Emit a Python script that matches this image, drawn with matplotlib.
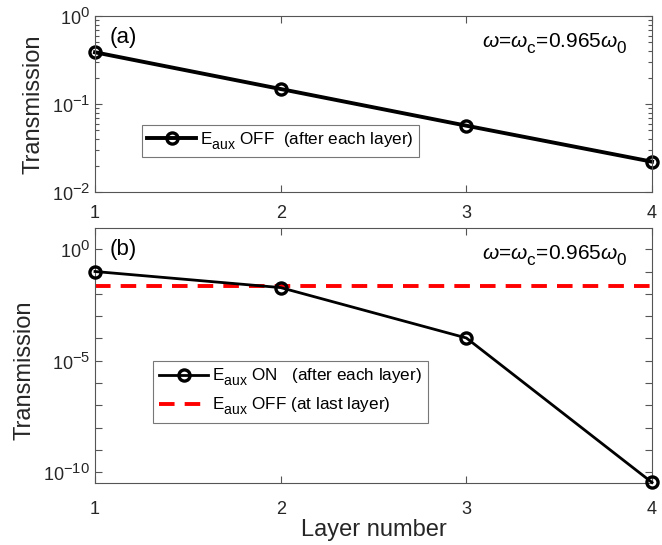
import matplotlib
matplotlib.use("Agg")
import matplotlib.pyplot as plt
import matplotlib.ticker as mticker
import matplotlib._mathtext as _mt
import numpy as np

# ---- data ----
layers = [1, 2, 3, 4]
trans_off_each = [0.387, 0.148, 0.0567, 0.0221]
trans_on_each = [0.10, 0.019, 1.05e-4, 3.5e-11]
trans_off_last = 0.0226
xtick_labels = ["1", "2", "3", "4"]
label_a = "(a)"
label_b = "(b)"
freq_text = r"$\omega$=$\omega_{\rm c}$=0.965$\omega_0$"
leg_a = r"E$_{\rm aux}$ OFF  (after each layer)"
leg_b1 = r"E$_{\rm aux}$ ON   (after each layer)"
leg_b2 = r"E$_{\rm aux}$ OFF (at last layer)"

# MATLAB-like larger, lower subscripts
_mt.SHRINK_FACTOR = 0.82
_mt.FontConstantsBase.sub1 = 0.6
_mt.FontConstantsBase.sub2 = 0.75

plt.rcParams["font.family"] = ["Liberation Sans", "DejaVu Sans"]
plt.rcParams["mathtext.fontset"] = "custom"
plt.rcParams["mathtext.rm"] = "Liberation Sans"
plt.rcParams["mathtext.it"] = "Liberation Sans:italic"
plt.rcParams["mathtext.bf"] = "Liberation Sans:bold"

W, H = 662, 545
fig = plt.figure(figsize=(W / 100, H / 100), dpi=100)

def fx(px):
    return px / W

def fy(py):
    return 1 - py / H

ax1 = fig.add_axes([fx(95), fy(192), fx(652) - fx(95), fy(16) - fy(192)])
ax2 = fig.add_axes([fx(95), fy(483), fx(652) - fx(95), fy(228) - fy(483)])

axcol = "#555555"
txtcol = "#262626"

for ax in (ax1, ax2):
    ax.set_yscale("log")
    ax.set_xlim(1, 4)
    ax.set_xticks(layers)
    ax.set_xticklabels(xtick_labels)
    ax.tick_params(which="both", direction="in", top=True, right=True,
                   colors=axcol, labelcolor=txtcol, labelsize=13, width=0.8)
    ax.tick_params(which="major", length=5)
    ax.tick_params(which="minor", length=3)
    for s in ax.spines.values():
        s.set_color(axcol)
        s.set_linewidth(0.8)
ax1.tick_params(axis="x", pad=9)
ax2.tick_params(axis="x", pad=13)

# ---- panel (a) ----
ax1.plot(layers, trans_off_each, "-o", color="black", lw=2.8, ms=8,
         mfc="none", mew=2.4, clip_on=False, label=leg_a)
ax1.set_ylim(1e-2, 1e0)
ax1.yaxis.set_major_locator(mticker.LogLocator(base=10, numticks=10))
ax1.yaxis.set_minor_locator(mticker.LogLocator(base=10, subs=np.arange(2, 10), numticks=10))
ax1.text(0.027, 0.875, label_a, transform=ax1.transAxes, fontsize=16,
         ha="left", va="center", color="black")
ax1.text(0.955, 0.84, freq_text, transform=ax1.transAxes, fontsize=15,
         ha="right", va="center", color="black")
leg1 = ax1.legend(loc="lower left", bbox_to_anchor=(0.084, 0.199),
                  borderaxespad=0, fontsize=12.3, frameon=True, fancybox=False,
                  handlelength=2.9, handletextpad=0.2, borderpad=0.3)
leg1.get_frame().set_edgecolor("#777777")
leg1.get_frame().set_linewidth(0.8)
leg1.get_frame().set_alpha(1)

# ---- panel (b) ----
ax2.plot(layers, trans_on_each, "-o", color="black", lw=2.0, ms=8,
         mfc="none", mew=2.4, clip_on=False, label=leg_b1, zorder=3)
ax2.plot(layers, [trans_off_last] * len(layers), "--", color="#ff0000", lw=2.8,
         dashes=(4, 2.6), label=leg_b2, zorder=2)
ax2.set_ylim(10 ** -10.48, 10 ** 0.95)
ax2.yaxis.set_major_locator(mticker.FixedLocator([10.0 ** k for k in range(-10, 1)]))
ax2.yaxis.set_minor_locator(mticker.NullLocator())
ax2.yaxis.set_major_formatter(mticker.FuncFormatter(
    lambda v, p: (r"$10^{%d}$" % round(np.log10(v))) if round(np.log10(v)) % 5 == 0 else ""))
ax2.text(0.027, 0.914, label_b, transform=ax2.transAxes, fontsize=16,
         ha="left", va="center", color="black")
ax2.text(0.955, 0.89, freq_text, transform=ax2.transAxes, fontsize=15,
         ha="right", va="center", color="black")
leg2 = ax2.legend(loc="lower left", bbox_to_anchor=(0.104, 0.235),
                  borderaxespad=0, fontsize=12.3, frameon=True, fancybox=False,
                  handlelength=2.9, handletextpad=0.2, borderpad=0.35,
                  labelspacing=0.45)
leg2.get_frame().set_edgecolor("#777777")
leg2.get_frame().set_linewidth(0.8)
leg2.get_frame().set_alpha(1)

fig.text(fx(33), fy(104), "Transmission", rotation=90, ha="center", va="center",
         fontsize=17, color=txtcol)
fig.text(fx(25), fy(370), "Transmission", rotation=90, ha="center", va="center",
         fontsize=17, color=txtcol)
fig.text(fx(374), fy(530), "Layer number", ha="center", va="center",
         fontsize=17, color=txtcol)

fig.savefig("out.png", dpi=100)
